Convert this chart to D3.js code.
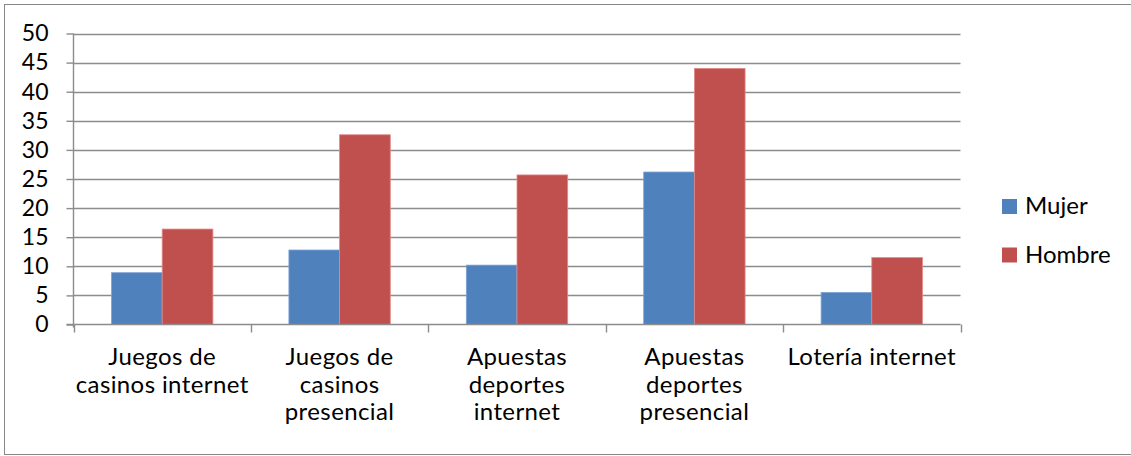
<!DOCTYPE html>
<html>
<head>
<meta charset="utf-8">
<script src="https://cdn.jsdelivr.net/npm/d3@7"></script>
<style>
  html, body { margin: 0; padding: 0; background: #fff; }
  svg { display: block; }
  text { font-family: Lato, "Open Sans", sans-serif; fill: #000; }
</style>
</head>
<body>
<svg id="chart" width="1131" height="456"></svg>
<script>
// Categories (line breaks follow the wrapped axis labels)
const categories = [
  "Juegos de\ncasinos internet",
  "Juegos de\ncasinos\npresencial",
  "Apuestas\ndeportes\ninternet",
  "Apuestas\ndeportes\npresencial",
  "Lotería internet"
];
const seriesNames = ["Mujer", "Hombre"];
const mujer  = [8.9, 12.8, 10.2, 26.2, 5.5];
const hombre = [16.4, 32.6, 25.7, 44.0, 11.5];
const yTicks = [0, 5, 10, 15, 20, 25, 30, 35, 40, 45, 50];
const colors = ["#4F81BD", "#C0504D"];
const edgeColors = ["#7da2d6", "#e08a88"];

const seriesValues = [mujer, hombre];
const rows = categories.map((c, i) => ({
  cat: c,
  vals: seriesNames.map((s, k) => ({ series: s, k, value: seriesValues[k][i] }))
}));

const FS = 23;
const svg = d3.select("#chart");
const plot = { left: 73.5, right: 960.5, top: 33.5, bottom: 324.5 };

// Outer frame
svg.append("rect")
  .attr("x", 4.5).attr("y", 4.5)
  .attr("width", 1130).attr("height", 450)
  .attr("fill", "none").attr("stroke", "#878787").attr("stroke-width", 1);

const x = d3.scaleBand().domain(categories).range([plot.left, plot.right]).padding(0);
const xs = d3.scaleBand().domain(seriesNames).range([0, x.bandwidth()])
  .paddingInner(0).paddingOuter(0.75);
const y = d3.scaleLinear().domain([0, 50]).range([plot.bottom, plot.top]);

// Horizontal gridlines
svg.append("g").selectAll("line").data(yTicks.filter(t => t > 0)).join("line")
  .attr("x1", plot.left).attr("x2", plot.right)
  .attr("y1", d => Math.round(y(d)) + 0.5).attr("y2", d => Math.round(y(d)) + 0.5)
  .attr("stroke", "#8c8c8c").attr("stroke-width", 1.4);

// Bars
const groups = svg.append("g").selectAll("g").data(rows).join("g")
  .attr("transform", d => `translate(${x(d.cat)},0)`);
groups.selectAll("rect").data(d => d.vals).join("rect")
  .attr("x", d => xs(d.series))
  .attr("width", xs.bandwidth())
  .attr("y", d => y(d.value))
  .attr("height", d => y(0) - y(d.value))
  .attr("fill", d => colors[d.k])
  .attr("stroke", d => edgeColors[d.k])
  .attr("stroke-width", 0.8);

// Y axis
const yAxis = d3.axisLeft(y).tickValues(yTicks).tickSize(7).tickPadding(18);
const gy = svg.append("g").attr("transform", `translate(${plot.left},0)`).call(yAxis);
gy.select(".domain").attr("stroke", "#8c8c8c").attr("stroke-width", 1.4)
  .attr("d", `M0,${plot.top}V${plot.bottom + 3}`);
gy.selectAll(".tick line").attr("stroke", "#8c8c8c").attr("stroke-width", 1.4);
gy.selectAll(".tick text").style("font-family", "Lato, sans-serif")
  .attr("font-size", FS).attr("fill", "#000");

// X axis
const xAxis = d3.axisBottom(x).tickSize(0).tickFormat("");
const gx = svg.append("g").attr("transform", `translate(0,${plot.bottom})`).call(xAxis);
gx.select(".domain").attr("stroke", "#8c8c8c").attr("stroke-width", 1.4)
  .attr("d", `M${plot.left - 7},0H${plot.right}`);
const boundaries = categories.map(c => x(c)).concat([plot.right]);
gx.selectAll(".bound").data(boundaries).join("line").attr("class", "bound")
  .attr("x1", d => Math.round(d) + 0.5).attr("x2", d => Math.round(d) + 0.5)
  .attr("y1", 0).attr("y2", 8)
  .attr("stroke", "#8c8c8c").attr("stroke-width", 1.4);

// Wrapped category labels
const labels = svg.append("g").selectAll("text").data(categories).join("text")
  .attr("text-anchor", "middle")
  .attr("font-size", 24)
  .attr("letter-spacing", 0.4)
  .attr("x", d => x(d) + x.bandwidth() / 2)
  .attr("y", 365);
labels.selectAll("tspan").data(d => d.split("\n")).join("tspan")
  .attr("x", function () { return d3.select(this.parentNode).attr("x"); })
  .attr("dy", (d, i) => i === 0 ? 0 : 27.5)
  .text(d => d);

// Legend
const legend = svg.append("g").selectAll("g").data(seriesNames).join("g")
  .attr("transform", (d, i) => `translate(1002,${199 + i * 48.5})`);
legend.append("rect").attr("width", 15).attr("height", 15)
  .attr("fill", (d, i) => colors[i]);
legend.append("text").attr("x", 23).attr("y", 15).attr("font-size", 24)
  .text(d => d);
</script>
</body>
</html>
